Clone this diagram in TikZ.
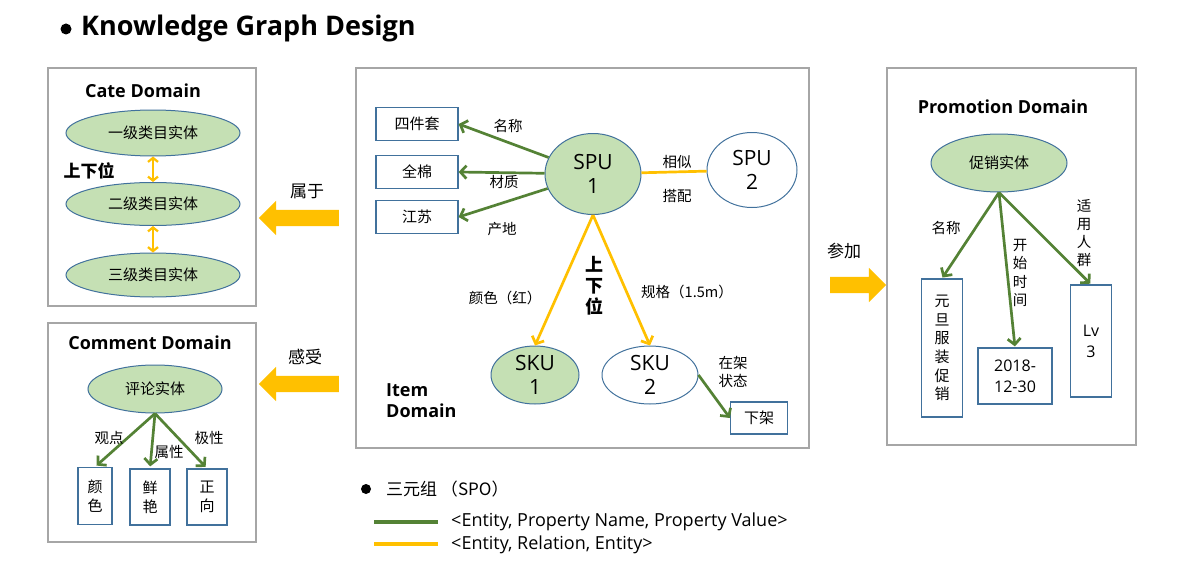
\documentclass[tikz,border=0pt]{standalone}
\usepackage{fontspec}
\setmainfont{Open Sans}
\newfontfamily\cjk{Noto Sans CJK SC}
\usetikzlibrary{arrows.meta,shapes.geometric,shapes.arrows}

\definecolor{panelgray}{HTML}{A6A6A6}
\definecolor{entblue}{HTML}{41719C}
\definecolor{entgreen}{HTML}{C5E0B4}
\definecolor{propgreen}{HTML}{548235}
\definecolor{relorange}{HTML}{FFC000}

\begin{document}
\begin{tikzpicture}[x=1pt,y=-1pt,
  panel/.style={draw=panelgray,line width=1.5pt,inner sep=0pt},
  ent/.style={ellipse,draw=entblue,line width=1pt,inner sep=0pt,align=center,font=\cjk\fontsize{15}{18}\selectfont},
  val/.style={rectangle,draw=entblue,line width=1.2pt,inner sep=0pt,align=center,font=\cjk\fontsize{15}{18.6}\selectfont},
  lab/.style={inner sep=0pt,align=center,font=\cjk\fontsize{14.5}{18.3}\selectfont},
  dom/.style={inner sep=0pt,font=\bfseries\fontsize{18}{21}\selectfont},
  prop/.style={draw=propgreen,line width=2.7pt,-{Straight Barb[length=6pt,width=13pt]}},
  rel/.style={draw=relorange,line width=2.7pt},
  bigarrow/.style={single arrow,fill=relorange,inner sep=8pt,minimum width=34,single arrow head extend=9pt}]
  \useasboundingbox (0,0) rectangle (1180,586);

  \node[circle,fill=black,inner sep=0pt,minimum size=11] (titlebullet) at (66,29) {};
  \node[anchor=west,inner sep=0pt,font=\bfseries\fontsize{27}{32}\selectfont] (title) at (81,28) {Knowledge Graph Design};

  \node[panel,minimum width=208,minimum height=238] (cate) at (152,187) {};
  \node[dom] (catename) at (143,91) {Cate Domain};
  \node[ent,fill=entgreen,minimum width=174,minimum height=46] (cate1) at (153,133) {一级类目实体};
  \node[ent,fill=entgreen,minimum width=174,minimum height=43] (cate2) at (153,204) {二级类目实体};
  \node[ent,fill=entgreen,minimum width=174,minimum height=44] (cate3) at (153,275) {三级类目实体};
  \draw[rel,line width=2.2pt,{Straight Barb[length=4pt,width=10pt]}-{Straight Barb[length=4pt,width=10pt]}] (cate1) -- (cate2);
  \draw[rel,line width=2.2pt,{Straight Barb[length=4pt,width=10pt]}-{Straight Barb[length=4pt,width=10pt]}] (cate2) -- (cate3);
  \node[lab,font=\cjk\bfseries\fontsize{17}{20}\selectfont] (catepos) at (89,171) {上下位};

  \node[panel,minimum width=208,minimum height=219] (comment) at (152,432.5) {};
  \node[dom] (commentname) at (150,343) {Comment Domain};
  \node[ent,fill=entgreen,minimum width=134,minimum height=48] (pinglun) at (155,389) {评论实体};
  \node[val,minimum width=34,minimum height=57] (yanse) at (95,496) {颜\\色};
  \node[val,minimum width=40,minimum height=56] (xianyan) at (150,497) {鲜\\艳};
  \node[val,minimum width=40,minimum height=56] (zhengxiang) at (207,497) {正\\向};
  \draw[prop,shorten >=2pt] (pinglun.south) -- (yanse.north);
  \draw[prop,shorten >=2pt] (pinglun.south) -- (xianyan.north);
  \draw[prop,shorten >=2pt] (pinglun.south) -- (zhengxiang.north);
  \node[lab] (guandian) at (109,438) {观点};
  \node[lab] (shuxing) at (169,452) {属性};
  \node[lab] (jixing) at (209,438) {极性};

  \node[bigarrow,shape border rotate=180,minimum height=80] (shuyu) at (303,218) {};
  \node[lab,font=\cjk\fontsize{17}{20}\selectfont] (shuyulab) at (307,191) {属于};
  \node[bigarrow,shape border rotate=180,minimum height=80] (ganshou) at (303,384) {};
  \node[lab,font=\cjk\fontsize{17}{20}\selectfont] (ganshoulab) at (305,357) {感受};

  \node[panel,minimum width=453,minimum height=380] (item) at (582.5,258) {};
  \node[dom,align=left,anchor=west] (itemname) at (386,401) {Item\\Domain};
  \node[val,minimum width=82,minimum height=33] (siji) at (417,124) {四件套};
  \node[val,minimum width=82,minimum height=33] (quanmian) at (417,172) {全棉};
  \node[val,minimum width=82,minimum height=33] (jiangsu) at (417,217) {江苏};
  \node[ent,fill=entgreen,minimum width=96,minimum height=81,font=\fontsize{21}{24}\selectfont] (spu1) at (593,174) {SPU\\1};
  \node[ent,minimum width=90,minimum height=75,font=\fontsize{21}{24}\selectfont] (spu2) at (752,170) {SPU\\2};
  \node[ent,fill=entgreen,minimum width=88,minimum height=58,font=\fontsize{21}{24}\selectfont] (sku1) at (535,375) {SKU\\1};
  \node[ent,minimum width=96,minimum height=58,font=\fontsize{21}{24}\selectfont] (sku2) at (650,375) {SKU\\2};
  \node[val,minimum width=57,minimum height=32] (xiajia) at (759,418) {下架};
  \draw[prop] (spu1) -- (siji.east);
  \draw[prop] (spu1) -- (quanmian.east);
  \draw[prop] (spu1) -- (jiangsu.east);
  \draw[rel] (spu1) -- (spu2);
  \draw[rel,-{Straight Barb[length=6pt,width=13pt]}] (spu1.south) -- (sku1.north);
  \draw[rel,-{Straight Barb[length=6pt,width=13pt]}] (spu1.south) -- (sku2.north);
  \draw[prop] (sku2.east) -- (xiajia.west);
  \node[lab] (mingcheng) at (508,126) {名称};
  \node[lab] (caizhi) at (504,182) {材质};
  \node[lab] (chandi) at (502,229) {产地};
  \node[lab] (xiangsi) at (677,162) {相似};
  \node[lab] (dapei) at (677,196) {搭配};
  \node[lab,font=\cjk\bfseries\fontsize{18}{21}\selectfont] (itempos) at (594,286) {上\\下\\位};
  \node[lab] (yansehong) at (505,298) {颜色（红）};
  \node[lab] (guige) at (687,292) {规格（1.5m）};
  \node[lab] (zaijia) at (733,372) {在架\\状态};

  \node[bigarrow,minimum height=56] (canjia) at (854,285) {};
  \node[lab,font=\cjk\fontsize{17}{20}\selectfont] (canjialab) at (844,251) {参加};

  \node[panel,minimum width=249,minimum height=377] (promo) at (1011.5,256.5) {};
  \node[dom] (promoname) at (1003,107) {Promotion Domain};
  \node[ent,fill=entgreen,minimum width=136,minimum height=58] (cuxiao) at (999,163) {促销实体};
  \node[val,minimum width=41,minimum height=138] (yuandan) at (942,348) {元\\旦\\服\\装\\促\\销};
  \node[val,minimum width=74,minimum height=56,font=\fontsize{16}{21}\selectfont] (riqi) at (1015,376) {2018-\\12-30};
  \node[val,minimum width=41,minimum height=112,font=\fontsize{16}{21}\selectfont] (lv) at (1091,341) {Lv\\3};
  \draw[prop,shorten >=1pt] (cuxiao.south) -- (yuandan.north);
  \draw[prop,shorten >=1pt] (cuxiao.south) -- (riqi.north);
  \draw[prop,shorten >=1pt] (cuxiao.south) -- (lv.north);
  \node[lab] (promoname2) at (946,228) {名称};
  \node[lab] (kaishi) at (1020,273) {开\\始\\时\\间};
  \node[lab] (shiyong) at (1084,233) {适\\用\\人\\群};

  \node[circle,fill=black,inner sep=0pt,minimum size=10] (bullet) at (366,489) {};
  \node[lab,anchor=west,font=\cjk\fontsize{17}{20}\selectfont] (spo) at (386,489) {三元组 （SPO）};
  \coordinate (pv1) at (374,522);
  \coordinate (pv2) at (438,522);
  \coordinate (re1) at (374,544);
  \coordinate (re2) at (438,544);
  \draw[draw=propgreen,line width=4pt] (pv1) -- (pv2);
  \draw[draw=relorange,line width=4pt] (re1) -- (re2);
  \node[anchor=west,inner sep=0pt,font=\fontsize{18}{21}\selectfont] (pvtext) at (451,522) {<Entity, Property Name, Property Value>};
  \node[anchor=west,inner sep=0pt,font=\fontsize{18}{21}\selectfont] (retext) at (451,545) {<Entity, Relation, Entity>};
\end{tikzpicture}
\end{document}
